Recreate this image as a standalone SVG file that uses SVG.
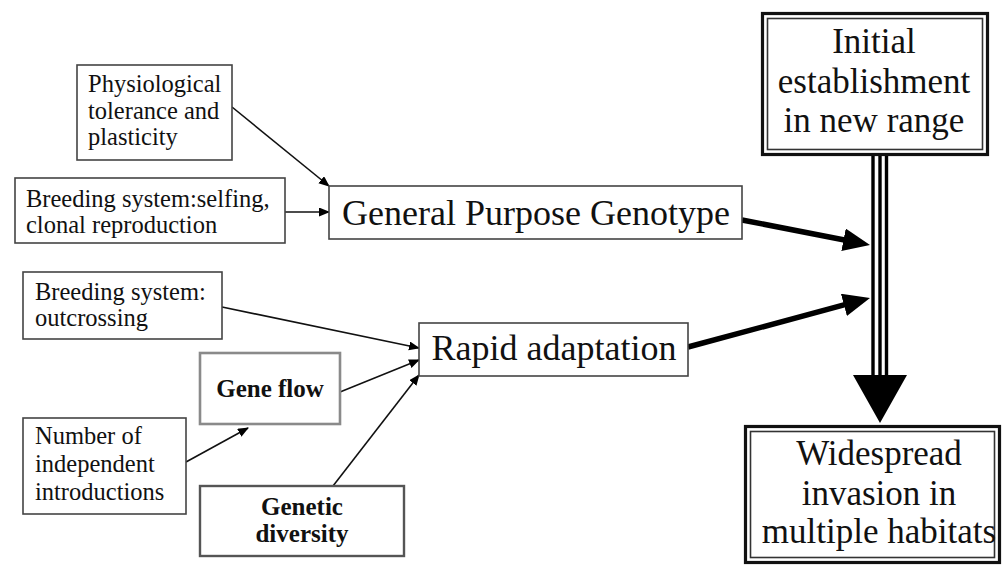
<svg xmlns="http://www.w3.org/2000/svg" width="1003" height="565" viewBox="0 0 1003 565">
<style>
.bg{fill:#ffffff}
.box{fill:#ffffff;stroke:#444444;stroke-width:1.6}
.gray{fill:#ffffff;stroke:#8a8a8a;stroke-width:2.6}
.dark{fill:#ffffff;stroke:#555555;stroke-width:2.4}
.outer{fill:#ffffff;stroke:#111111;stroke-width:3.2}
.inner{fill:none;stroke:#333333;stroke-width:1.6}
.t{font-family:'Liberation Serif','Tinos','Times New Roman','Nimbus Roman','FreeSerif','DejaVu Serif',serif;fill:#111111}
.s{font-size:24.5px}
.b{font-size:25px;font-weight:bold}
.m{font-size:36px}
.l{font-size:35px}
.thin{stroke:#111111;stroke-width:1.6;fill:none;marker-end:url(#ah)}
.thick{stroke:#000000;stroke-width:5.5;fill:none;marker-end:url(#big)}
.tri{stroke:#000000;stroke-width:3.4;fill:none}
</style>
<defs>
<marker id="ah" markerUnits="userSpaceOnUse" markerWidth="12" markerHeight="10" refX="10" refY="4.5" orient="auto">
<path d="M0,0 L11,4.5 L0,9 z" fill="#000000"/>
</marker>
<marker id="big" markerUnits="userSpaceOnUse" markerWidth="30" markerHeight="26" refX="1" refY="11.5" orient="auto">
<path d="M0,0 L27,11.5 L0,23 z" fill="#000000"/>
</marker>
</defs>
<rect class="bg" x="0" y="0" width="1003" height="565"/>

<g id="connectors">
<line class="thin" x1="232" y1="107" x2="329" y2="186"/>
<line class="thin" x1="285" y1="212" x2="329" y2="212"/>
<line class="thin" x1="222" y1="307" x2="419" y2="348"/>
<line class="thin" x1="340" y1="392" x2="419" y2="360"/>
<line class="thin" x1="186" y1="462" x2="248" y2="428"/>
<line class="thin" x1="333" y1="486" x2="419" y2="375"/>
<line class="thick" x1="742" y1="220" x2="844.5" y2="240"/>
<line class="thick" x1="688" y1="347" x2="844.9" y2="304.7"/>
<line class="tri" x1="873" y1="156" x2="873" y2="376"/>
<line class="tri" x1="880" y1="156" x2="880" y2="376"/>
<line class="tri" x1="886.5" y1="156" x2="886.5" y2="376"/>
<path d="M853,375 L907,375 L880,423 z" fill="#000000"/>
</g>

<g id="physiological">
<rect class="box" x="77" y="65" width="155" height="95"/>
<text class="t s" x="88" y="92">Physiological</text>
<text class="t s" x="88" y="119">tolerance and</text>
<text class="t s" x="88" y="145">plasticity</text>
</g>

<g id="selfing">
<rect class="box" x="15" y="178" width="270" height="65"/>
<text class="t s" x="26" y="207">Breeding system:selfing,</text>
<text class="t s" x="26" y="233">clonal reproduction</text>
</g>

<g id="outcrossing">
<rect class="box" x="23" y="272" width="199" height="67"/>
<text class="t s" x="35" y="300">Breeding system:</text>
<text class="t s" x="35" y="326">outcrossing</text>
</g>

<g id="geneflow">
<rect class="gray" x="200" y="353" width="140" height="71"/>
<text class="t b" x="270" y="397" text-anchor="middle">Gene flow</text>
</g>

<g id="introductions">
<rect class="box" x="23" y="418" width="163" height="96"/>
<text class="t s" x="35" y="444">Number of</text>
<text class="t s" x="35" y="472">independent</text>
<text class="t s" x="35" y="500">introductions</text>
</g>

<g id="genetic">
<rect class="dark" x="200" y="486" width="204" height="70"/>
<text class="t b" x="302" y="515" text-anchor="middle">Genetic</text>
<text class="t b" x="302" y="542" text-anchor="middle">diversity</text>
</g>

<g id="gpg">
<rect class="box" x="329" y="186" width="413" height="53"/>
<text class="t m" x="536" y="225" text-anchor="middle">General Purpose Genotype</text>
</g>

<g id="rapid">
<rect class="box" x="419" y="323" width="269" height="53"/>
<text class="t m" x="554" y="360" text-anchor="middle">Rapid adaptation</text>
</g>

<g id="initial">
<rect class="outer" x="762.5" y="13.5" width="225" height="141"/>
<rect class="inner" x="767.5" y="18.5" width="215" height="131"/>
<text class="t l" x="874" y="53" text-anchor="middle">Initial</text>
<text class="t l" x="874" y="93" text-anchor="middle">establishment</text>
<text class="t l" x="874" y="132" text-anchor="middle">in new range</text>
</g>

<g id="widespread">
<rect class="outer" x="745.5" y="426.5" width="254" height="136"/>
<rect class="inner" x="750.5" y="431.5" width="244" height="126"/>
<text class="t l" x="879" y="465" text-anchor="middle">Widespread</text>
<text class="t l" x="879" y="505" text-anchor="middle">invasion in</text>
<text class="t l" x="879" y="543" text-anchor="middle">multiple habitats</text>
</g>
</svg>
